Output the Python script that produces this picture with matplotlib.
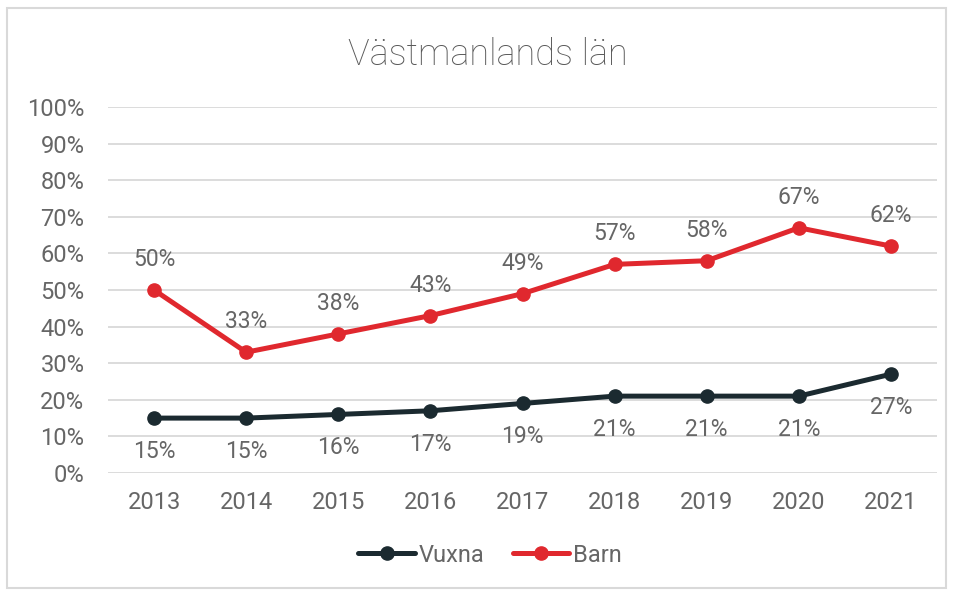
import matplotlib.pyplot as plt
from matplotlib.patches import Rectangle

# Data
years = ['2013', '2014', '2015', '2016', '2017', '2018', '2019', '2020', '2021']
vuxna = [15, 15, 16, 17, 19, 21, 21, 21, 27]
barn = [50, 33, 38, 43, 49, 57, 58, 67, 62]
yticks = [0, 10, 20, 30, 40, 50, 60, 70, 80, 90, 100]

txt = '#666666'
plt.rcParams['font.family'] = ['Roboto', 'DejaVu Sans']

fig = plt.figure(figsize=(9.54, 5.91), dpi=100)
ax = fig.add_axes([108 / 954, 1 - 473 / 591, 829 / 954, 366 / 591])

x = list(range(len(years)))
ax.plot(x, vuxna, color='#1b2a30', lw=3.6, marker='o', ms=9.5, label='Vuxna',
        solid_capstyle='round', zorder=3)
ax.plot(x, barn, color='#e0282e', lw=3.6, marker='o', ms=9.5, label='Barn',
        solid_capstyle='round', zorder=3)

for i, v in enumerate(vuxna):
    ax.annotate(f'{v}%', (i, v), xytext=(0, -24), textcoords='offset points',
                ha='center', va='center', fontsize=16.5, color=txt)
for i, v in enumerate(barn):
    ax.annotate(f'{v}%', (i, v), xytext=(0, 22), textcoords='offset points',
                ha='center', va='center', fontsize=16.5, color=txt)

ax.set_xlim(-0.5, len(years) - 0.5)
ax.set_ylim(0, 100)
ax.set_yticks(yticks)
ax.set_yticklabels([f'{t}%' for t in yticks])
ax.set_xticks(x)
ax.set_xticklabels(years)
ax.tick_params(axis='both', length=0, labelsize=17, labelcolor=txt)
ax.tick_params(axis='y', pad=17)
ax.tick_params(axis='x', pad=13)
ax.grid(axis='y', color='#d9d9d9', lw=1.3)
ax.set_axisbelow(True)
for s in ax.spines.values():
    s.set_visible(False)

fig.text(488 / 954, 1 - 55 / 591, 'Västmanlands län', ha='center', va='center',
         fontsize=26, color='#595959', fontweight='light')

ax.legend(loc='center', bbox_to_anchor=(490 / 954, 1 - 555 / 591),
          bbox_transform=fig.transFigure, ncol=2, frameon=False,
          fontsize=17, labelcolor=txt, handlelength=2.4, handletextpad=0.15,
          columnspacing=1.2)

fig.patches.append(Rectangle((7 / 954, 3 / 591), 939 / 954, 580 / 591,
                             transform=fig.transFigure, fill=False,
                             edgecolor='#d9d9d9', lw=1.5))

fig.savefig('out.png', dpi=100)
